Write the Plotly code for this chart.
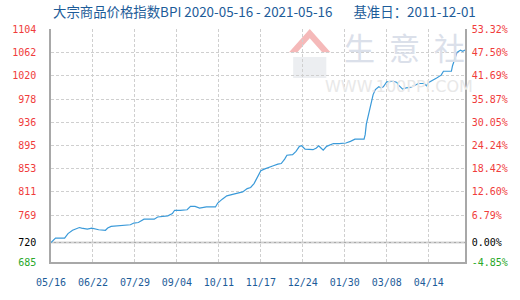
import plotly.graph_objects as go

# ---- data ----
dates = [
    "2020-05-16", "2020-05-20", "2020-05-28", "2020-05-31", "2020-06-04", "2020-06-10",
    "2020-06-12", "2020-06-17", "2020-06-21", "2020-06-27", "2020-07-03", "2020-07-05",
    "2020-07-08", "2020-07-14", "2020-07-21", "2020-07-25", "2020-07-28", "2020-08-01",
    "2020-08-06", "2020-08-15", "2020-08-18", "2020-08-27", "2020-08-31", "2020-09-02",
    "2020-09-07", "2020-09-13", "2020-09-16", "2020-09-20", "2020-09-24", "2020-09-30",
    "2020-10-08", "2020-10-10", "2020-10-14", "2020-10-18", "2020-10-24", "2020-11-01",
    "2020-11-05", "2020-11-08", "2020-11-11", "2020-11-14", "2020-11-17", "2020-11-20",
    "2020-11-25", "2020-11-28", "2020-12-02", "2020-12-05", "2020-12-08", "2020-12-10",
    "2020-12-15", "2020-12-18", "2020-12-21", "2020-12-23", "2020-12-26", "2020-12-29",
    "2021-01-02", "2021-01-05", "2021-01-07", "2021-01-09", "2021-01-11", "2021-01-14",
    "2021-01-16", "2021-01-20", "2021-01-25", "2021-01-31", "2021-02-04", "2021-02-08",
    "2021-02-16", "2021-02-17", "2021-02-18", "2021-02-20", "2021-02-22", "2021-02-24",
    "2021-02-26", "2021-03-01", "2021-03-03", "2021-03-05", "2021-03-07", "2021-03-08",
    "2021-03-14", "2021-03-17", "2021-03-18", "2021-03-22", "2021-03-25", "2021-03-29",
    "2021-04-01", "2021-04-05", "2021-04-10", "2021-04-12", "2021-04-14", "2021-04-18",
    "2021-04-21", "2021-04-25", "2021-04-27", "2021-05-04", "2021-05-05", "2021-05-07",
    "2021-05-09", "2021-05-12", "2021-05-14", "2021-05-16",
]
bpi = [
    720, 728, 728, 736, 742, 747,
    746, 744, 746, 743, 742, 746,
    749, 750, 750, 752, 755, 756,
    762, 762, 766, 768, 772, 778,
    778, 779, 785, 785, 782, 784,
    784, 791, 798, 804, 807, 811,
    817, 819, 826, 838, 849, 852,
    855, 858, 861, 862, 870, 877,
    878, 884, 893, 894, 888, 887,
    887, 890, 894, 890, 886, 893,
    895, 898, 898, 899, 902, 906,
    906, 914, 933, 951, 971, 986,
    995, 1000, 998, 1000, 1006, 1009,
    1010, 1008, 1004, 996, 998, 999,
    1002, 1006, 1006, 1002, 1008, 1012,
    1016, 1021, 1028, 1028, 1038, 1050,
    1062, 1066, 1064, 1066,
]

base_value = 720
y_ticks = [685, 720, 769, 811, 853, 895, 936, 978, 1020, 1062, 1104]
pct_labels = ["-4.85%", "0.00%", "6.79%", "12.60%", "18.42%", "24.24%",
              "30.05%", "35.87%", "41.69%", "47.50%", "53.32%"]
x_tick_dates = ["2020-05-16", "2020-06-22", "2020-07-29", "2020-09-04", "2020-10-11",
                "2020-11-17", "2020-12-24", "2021-01-30", "2021-03-08", "2021-04-14"]
x_tick_labels = ["05/16", "06/22", "07/29", "09/04", "10/11",
                 "11/17", "12/24", "01/30", "03/08", "04/14"]
x_start, x_end = "2020-05-16", "2021-05-16"

title_text = ("大宗商品价格指数BPI 2020-05-16 - 2021-05-16"
              "&nbsp;&nbsp;&nbsp;&nbsp;&nbsp;&nbsp;&nbsp;基准日：2011-12-01")

RED = "#f03c3c"
GREEN = "#2aa82a"
BLACK = "#000000"


def colored(label, v):
    if v == base_value:
        c = BLACK
    elif v < base_value:
        c = GREEN
    else:
        c = RED
    return f"<span style='color:{c}'>{label}</span>"


left_text = [colored(str(v), v) for v in y_ticks]
right_text = [colored(p, v) for p, v in zip(pct_labels, y_ticks)]

fig = go.Figure()
fig.add_trace(go.Scatter(x=dates, y=bpi, mode="lines",
                         line=dict(color="#3a9ad9", width=1.2),
                         showlegend=False, hoverinfo="skip"))
# invisible trace for right axis
fig.add_trace(go.Scatter(x=[dates[0]], y=[bpi[0]], yaxis="y2", mode="lines",
                         line=dict(width=0), showlegend=False, hoverinfo="skip"))

grid_col = "#cfcfcf"
axis_col = "#a8a8a8"
mono = "DejaVu Sans Mono"

fig.update_layout(
    width=520, height=300,
    margin=dict(l=40, r=50, t=29, b=30),
    paper_bgcolor="white", plot_bgcolor="white",
    xaxis=dict(
        range=[x_start, x_end], type="date",
        tickvals=x_tick_dates, ticktext=x_tick_labels,
        tickfont=dict(family=mono, size=10, color="#1d5c99"),
        showgrid=True, gridcolor=grid_col, griddash="3px,2px", gridwidth=1,
        showline=True, linecolor=axis_col, linewidth=1.5,
        ticks="", ticklabelstandoff=10, zeroline=False,
    ),
    yaxis=dict(
        range=[y_ticks[0], y_ticks[-1]],
        tickvals=y_ticks, ticktext=left_text,
        tickfont=dict(family=mono, size=10, color=RED),
        showgrid=True, gridcolor=grid_col, griddash="3px,2px", gridwidth=1,
        showline=True, linecolor=axis_col, linewidth=1.5,
        ticks="", ticklabelstandoff=11, zeroline=False,
    ),
    yaxis2=dict(
        range=[y_ticks[0], y_ticks[-1]], overlaying="y", side="right",
        tickvals=y_ticks, ticktext=right_text,
        tickfont=dict(family=mono, size=10, color=RED),
        showgrid=False, showline=True, linecolor=axis_col, linewidth=1.5,
        ticks="", ticklabelstandoff=3, zeroline=False,
    ),
    annotations=[
        dict(text=title_text, xref="paper", yref="paper", x=0, y=1,
             xanchor="left", yanchor="bottom", yshift=6, showarrow=False,
             font=dict(family="Noto Sans CJK SC", size=13.4, color="#1d5c99")),
        dict(text="生&nbsp;&nbsp;意&nbsp;&nbsp;社", xref="paper", yref="paper",
             x=0.855, y=0.925, xanchor="center", yanchor="middle", showarrow=False,
             font=dict(family="Noto Sans CJK SC", size=31, color="#dbe0ea")),
        dict(text="WWW.100PPI.COM", xref="paper", yref="paper", x=0.84, y=0.755,
             xanchor="center", yanchor="middle", showarrow=False,
             font=dict(family="DejaVu Sans", size=16, color="#e8e8e8")),
    ],
    shapes=[
        dict(type="line", xref="paper", yref="y", x0=0, x1=1,
             y0=base_value, y1=base_value,
             line=dict(color=axis_col, width=1.5), layer="below"),
        dict(type="path", xref="paper", yref="paper",
             path="M 0.575 0.9 L 0.625 1.0 L 0.675 0.9 L 0.655 0.9 L 0.625 0.96 L 0.595 0.9 Z",
             fillcolor="rgba(230,80,80,0.4)", line=dict(width=0), layer="below"),
        dict(type="rect", xref="paper", yref="paper",
             x0=0.585, x1=0.665, y0=0.79, y1=0.88,
             fillcolor="rgba(200,205,215,0.35)", line=dict(width=0), layer="below"),
    ],
)

fig.write_html("out.html")
